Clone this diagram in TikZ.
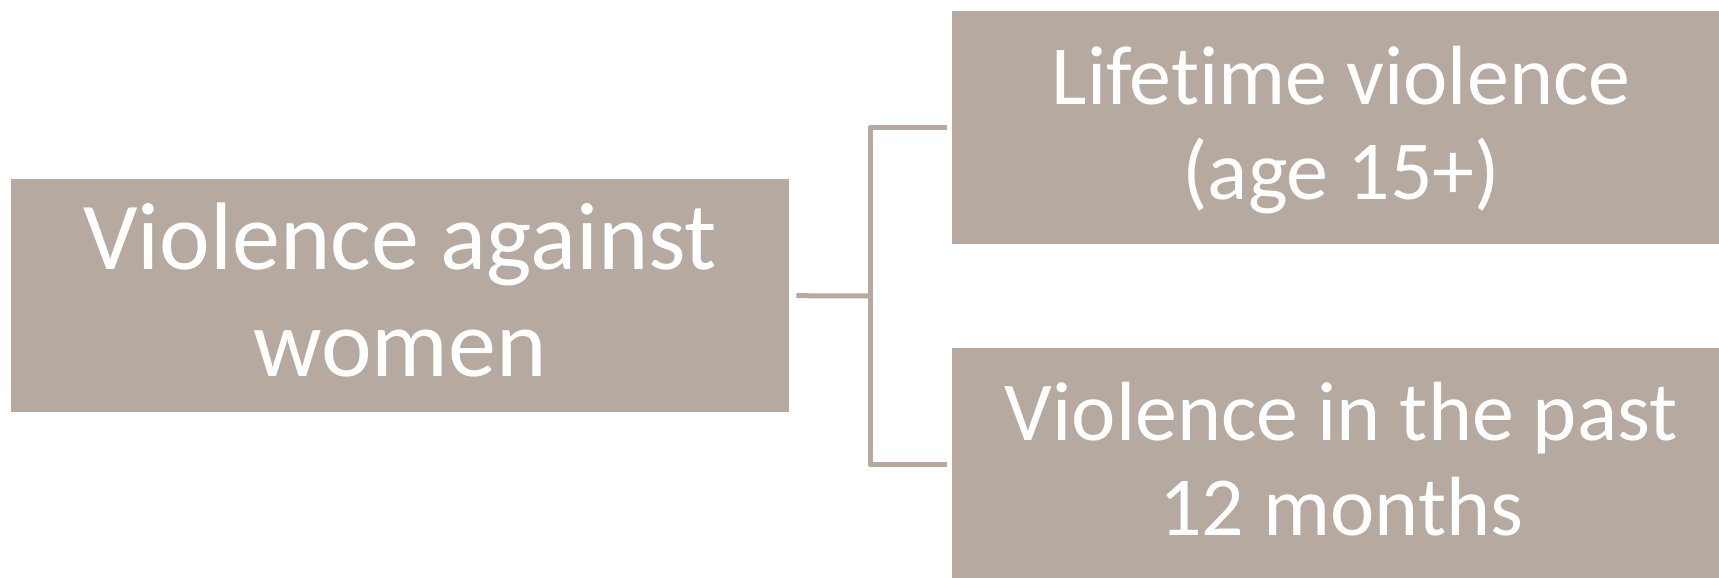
\documentclass[tikz,border=0pt]{standalone}
\usepackage{fontspec}
\setmainfont[Ligatures=NoCommon]{Carlito}
\definecolor{boxc}{RGB}{181,169,160}
\begin{document}
\begin{tikzpicture}[x=1pt,y=-1pt,
  box/.style={fill=boxc, draw=none, inner sep=0pt, anchor=north west,
              minimum width=778pt, minimum height=233pt},
  bigtxt/.style={text=white, font=\fontsize{96}{107}\selectfont, align=center, inner sep=0pt},
  smalltxt/.style={text=white, font=\fontsize{84}{95}\selectfont, align=center, inner sep=0pt},
  link/.style={draw=boxc, line width=5pt, line join=round}]
\useasboundingbox (0,0) rectangle (1719,578);
\node[box] (L) at (11,179) {};
\node[box] (T) at (952,11) {};
\node[box] (B) at (952,348) {};
\node[bigtxt] (Lt) at ([yshift=6pt]L.center) {Violence against\\women};
\node[smalltxt] (Tt) at ([yshift=-2pt]T.center) {Lifetime violence\\(age 15+)};
\node[smalltxt] (Bt) at ([yshift=6pt]B.center) {Violence in the past\\12 months};
\coordinate (J) at (870,296);
\draw[link] ([xshift=7pt]L.east) -- (J);
\draw[link] ([xshift=-5pt]T.west) -| (J) |- ([xshift=-5pt]B.west);
\end{tikzpicture}
\end{document}
